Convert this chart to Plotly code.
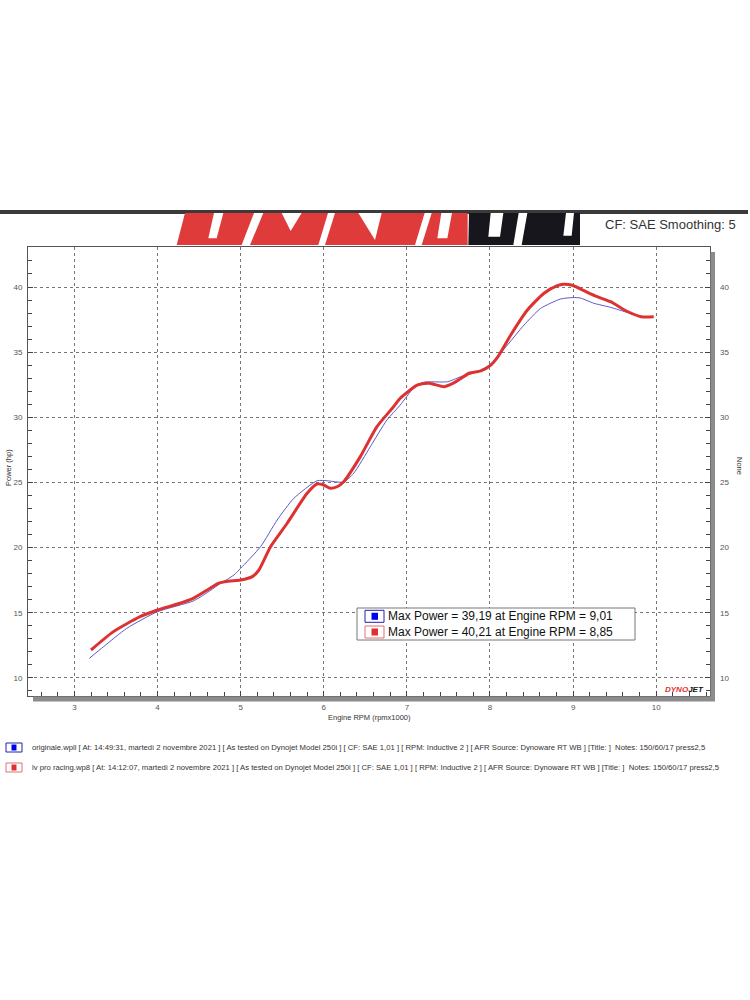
import plotly.graph_objects as go

# ---------------- data ----------------
blue_rpm = [3.18, 3.35, 3.63, 4.0, 4.43, 4.6, 4.73, 4.92, 5.0, 5.24, 5.44, 5.64, 5.92, 6.04,
            6.24, 6.36, 6.56, 6.76, 6.92, 7.08, 7.2, 7.49, 7.65, 7.85, 8.01, 8.21, 8.41,
            8.61, 8.85, 9.0, 9.09, 9.25, 9.45, 9.66, 9.82, 9.96]
blue_hp = [11.5, 12.39, 13.8, 15.08, 15.9, 16.55, 17.13, 17.9, 18.41, 20.07, 22.12, 23.78,
           25.13, 25.13, 25.03, 25.7, 27.74, 29.79, 30.94, 32.23, 32.69, 32.73, 33.12,
           33.5, 34.09, 35.55, 37.08, 38.36, 39.08, 39.19, 39.15, 38.75, 38.44, 38.03,
           37.72, 37.72]

red_rpm = [3.2, 3.47, 3.79, 4.0, 4.23, 4.43, 4.6, 4.73, 4.85, 5.0, 5.14, 5.22, 5.36, 5.56,
           5.8, 5.92, 6.0, 6.08, 6.16, 6.24, 6.44, 6.64, 6.84, 6.92, 7.13, 7.27, 7.45,
           7.57, 7.75, 7.89, 8.01, 8.09, 8.25, 8.45, 8.65, 8.81, 8.88, 8.99, 9.13, 9.29,
           9.45, 9.66, 9.82, 9.97]
red_hp = [12.14, 13.55, 14.7, 15.21, 15.65, 16.11, 16.75, 17.26, 17.42, 17.51, 17.77,
          18.28, 20.07, 21.87, 24.17, 24.88, 24.8, 24.55, 24.67, 25.06, 26.98, 29.28,
          30.81, 31.46, 32.48, 32.61, 32.35, 32.66, 33.38, 33.56, 34.01, 34.6, 36.32,
          38.23, 39.52, 40.1, 40.21, 40.13, 39.72, 39.26, 38.87, 38.1, 37.72, 37.72]

x_ticks = [3, 4, 5, 6, 7, 8, 9, 10]
y_ticks = [10, 15, 20, 25, 30, 35, 40]

max_labels = ["Max Power = 39,19 at Engine RPM = 9,01",
              "Max Power = 40,21 at Engine RPM = 8,85"]
run_labels = [
    "originale.wpll [ At: 14:49:31, martedì 2 novembre 2021 ] [ As tested on Dynojet Model 250i ] [ CF: SAE 1,01 ] [ RPM: Inductive 2 ] [ AFR Source: Dynoware RT WB ] [Title: ]  Notes: 150/60/17 press2,5",
    "lv pro racing.wp8 [ At: 14:12:07, martedì 2 novembre 2021 ] [ As tested on Dynojet Model 250i ] [ CF: SAE 1,01 ] [ RPM: Inductive 2 ] [ AFR Source: Dynoware RT WB ] [Title: ]  Notes: 150/60/17 press2,5",
]
series_colors = ["#5a5ac8", "#dc3232"]
icon_fill = ["#0000f0", "#e03030"]
icon_edge = ["#2020b0", "#e07070"]

# ---------------- layout geometry (pixels) ----------------
W, H = 750, 1000
L, R, T, B = 28, 710, 247, 696


def px(x):
    return (x - L) / (R - L)


def py(y):
    return (B - y) / (B - T)


FONT = "Liberation Sans, Arial, sans-serif"

fig = go.Figure()
fig.add_trace(go.Scatter(x=blue_rpm, y=blue_hp, mode="lines",
                         line=dict(color=series_colors[0], width=1, shape="spline", smoothing=0.6),
                         showlegend=False, hoverinfo="skip"))
fig.add_trace(go.Scatter(x=red_rpm, y=red_hp, mode="lines",
                         line=dict(color=series_colors[1], width=3, shape="spline", smoothing=0.6),
                         showlegend=False, hoverinfo="skip"))
# invisible trace to bind the right-hand axis
fig.add_trace(go.Scatter(x=[None], y=[None], yaxis="y2", showlegend=False, hoverinfo="skip"))

shapes = []
ann = []

# header bar
shapes.append(dict(type="rect", xref="paper", yref="paper", x0=px(0), x1=px(748),
                   y0=py(214), y1=py(210), fillcolor="#3a3a3a", line=dict(width=0), layer="above"))


def poly(pts, color):
    d = "M " + " L ".join(f"{px(a):.5f},{py(b):.5f}" for a, b in pts) + " Z"
    return dict(type="path", xref="paper", yref="paper", path=d, fillcolor=color,
                line=dict(width=0), layer="above")


def z(xz, yz):
    return (170 + xz / 3, 205 + yz / 3)


# logo: red band and black band
shapes.append(poly([z(20, 120), z(893, 120), z(893, 24), z(45, 24)], "#e03b3b"))
shapes.append(poly([z(895, 120), z(1230, 120), z(1230, 24), z(897, 24)], "#16161c"))
WHITE = "#ffffff"
cutouts = [
    [z(115, 100), z(140, 100), z(160, 24), z(132, 24)],
    [z(215, 120), z(240, 120), z(280, 24), z(252, 24)],
    [z(335, 24), z(395, 24), z(362, 78)],
    [z(445, 120), z(465, 120), z(495, 24), z(474, 24)],
    [z(565, 24), z(635, 24), z(615, 105)],
    [z(735, 120), z(755, 120), z(785, 24), z(764, 24)],
    [z(802, 100), z(832, 100), z(846, 24), z(814, 24)],
    [z(955, 95), z(990, 95), z(1000, 24), z(962, 24)],
    [z(1030, 120), z(1055, 120), z(1072, 24), z(1046, 24)],
    [z(1180, 92), z(1205, 92), z(1212, 24), z(1188, 24)],
]
for c in cutouts:
    shapes.append(poly(c, WHITE))

ann.append(dict(xref="paper", yref="paper", x=px(738), y=py(224), xanchor="right", yanchor="middle",
                text="CF: SAE Smoothing: 5", showarrow=False,
                font=dict(family=FONT, size=13, color="#333333")))

# plot drop shadow (right and bottom)
shapes.append(dict(type="rect", xref="paper", yref="paper", x0=px(710.5), x1=px(715),
                   y0=py(701), y1=py(252), fillcolor="#8c8c8c", line=dict(width=0), layer="above"))
shapes.append(dict(type="rect", xref="paper", yref="paper", x0=px(33), x1=px(715),
                   y0=py(701.5), y1=py(696.5), fillcolor="#8c8c8c", line=dict(width=0), layer="above"))

# small DYNOJET mark in the plot corner
ann.append(dict(xref="paper", yref="paper", x=px(706), y=py(689), xanchor="right", yanchor="middle",
                text="<b><i><span style='color:#e03030'>DYNO</span><span style='color:#111'>JET</span></i></b>",
                showarrow=False, font=dict(family=FONT, size=8)))

# Max power legend box
shapes.append(dict(type="rect", xref="paper", yref="paper", x0=px(357), x1=px(635),
                   y0=py(640), y1=py(608), fillcolor="white", line=dict(color="#777777", width=1),
                   layer="above"))
for i, yc in enumerate([616.3, 632.0]):
    shapes.append(dict(type="rect", xref="paper", yref="paper", x0=px(365), x1=px(384),
                       y0=py(yc + 6), y1=py(yc - 6), fillcolor="white",
                       line=dict(color=icon_edge[i], width=1), layer="above"))
    shapes.append(dict(type="rect", xref="paper", yref="paper", x0=px(371.5), x1=px(378),
                       y0=py(yc + 3.5), y1=py(yc - 3.5), fillcolor=icon_fill[i],
                       line=dict(width=0), layer="above"))
    ann.append(dict(xref="paper", yref="paper", x=px(386), y=py(yc), xanchor="left", yanchor="middle",
                    text=max_labels[i], showarrow=False,
                    font=dict(family=FONT, size=12, color="#111111")))

# run legend below chart
for i, yc in enumerate([747.5, 767.5]):
    shapes.append(dict(type="rect", xref="paper", yref="paper", x0=px(6), x1=px(22),
                       y0=py(yc + 4.5), y1=py(yc - 4.5), fillcolor="white",
                       line=dict(color=icon_edge[i], width=1)))
    shapes.append(dict(type="rect", xref="paper", yref="paper", x0=px(11.5), x1=px(16.5),
                       y0=py(yc + 3), y1=py(yc - 3), fillcolor=icon_fill[i], line=dict(width=0)))
    ann.append(dict(xref="paper", yref="paper", x=px(30), y=py(yc), xanchor="left", yanchor="middle",
                    text=run_labels[i], showarrow=False,
                    font=dict(family=FONT, size=7.7, color="#333333")))

# axis titles
ann.append(dict(xref="paper", yref="paper", x=px(8), y=py(468), xanchor="center", yanchor="middle",
                text="Power (hp)", textangle=-90, showarrow=False,
                font=dict(family=FONT, size=7.5, color="#333333")))
ann.append(dict(xref="paper", yref="paper", x=px(740), y=py(466), xanchor="center", yanchor="middle",
                text="None", textangle=90, showarrow=False,
                font=dict(family=FONT, size=7.5, color="#333333")))
ann.append(dict(xref="paper", yref="paper", x=px(369), y=py(717), xanchor="center", yanchor="middle",
                text="Engine RPM (rpmx1000)", showarrow=False,
                font=dict(family=FONT, size=7.5, color="#333333")))

x_range = [2.442, 10.647]
y_range = [8.61, 43.07]

axis_common = dict(showline=True, linecolor="#555555", linewidth=1, ticks="inside", ticklen=5,
                   tickcolor="#444444", showgrid=True, gridcolor="#777777", griddash="dot",
                   gridwidth=1, zeroline=False, tickfont=dict(family=FONT, size=8, color="#555555"))

fig.update_layout(
    width=W, height=H,
    margin=dict(l=L, r=W - R, t=T, b=H - B, pad=0),
    paper_bgcolor="white", plot_bgcolor="white",
    xaxis=dict(range=x_range, tickvals=x_ticks, ticktext=[str(v) for v in x_ticks], mirror=True,
               minor=dict(dtick=0.2, tick0=0, ticks="inside", ticklen=4, tickcolor="#444444",
                          showgrid=False),
               ticklabelstandoff=3, **axis_common),
    yaxis=dict(range=y_range, tickvals=y_ticks, ticktext=[str(v) for v in y_ticks], mirror=True,
               minor=dict(dtick=1, tick0=0, ticks="inside", ticklen=4, tickcolor="#444444",
                          showgrid=False),
               ticklabelstandoff=3, **axis_common),
    yaxis2=dict(range=y_range, tickvals=y_ticks, ticktext=[str(v) for v in y_ticks],
                overlaying="y", side="right", showgrid=False, showline=False, ticks="inside",
                ticklen=5, tickcolor="#444444", zeroline=False,
                minor=dict(dtick=1, tick0=0, ticks="inside", ticklen=4, tickcolor="#444444"),
                ticklabelstandoff=9, tickfont=dict(family=FONT, size=8, color="#555555")),
    shapes=shapes,
    annotations=ann,
    showlegend=False,
)

fig.write_html("out.html", config={"displayModeBar": False},
               post_script="document.body.style.margin='0px';")
